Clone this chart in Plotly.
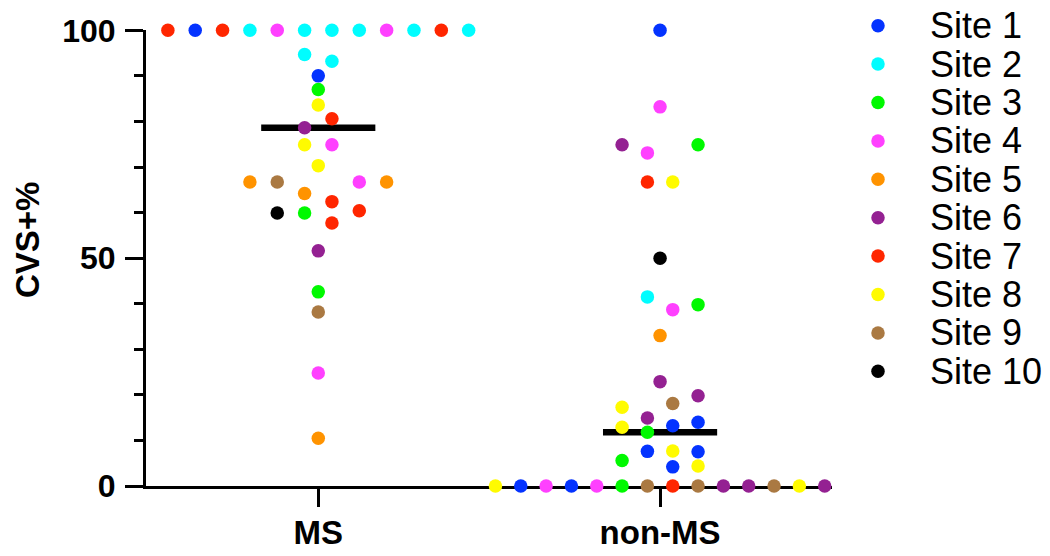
import plotly.graph_objects as go

# ---------------- data ----------------
groups = ["MS", "non-MS"]
site_names = [f"Site {i}" for i in range(1, 11)]
site_colors = ["#0433FF", "#00FDFF", "#00F900", "#FF40FF", "#FF9300",
               "#942192", "#FF2600", "#FFFB00", "#AA7942", "#000000"]

# MS group: values (CVS+%), site number, horizontal swarm slot (in dot widths)
ms_values = [100, 100, 100, 100, 100, 100, 100, 100, 100, 100, 100, 100,
             94.7, 93.2, 90.0, 87.0, 83.6, 80.6, 78.6, 74.9, 74.9, 70.3,
             66.7, 66.7, 66.7, 66.7, 64.2, 62.4, 59.9, 59.9, 60.4, 57.7,
             51.6, 42.6, 38.2, 24.8, 10.5]
ms_sites = [7, 1, 7, 2, 4, 2, 2, 2, 4, 2, 7, 2,
            2, 2, 1, 3, 8, 7, 6, 8, 4, 8,
            5, 9, 4, 5, 5, 7, 10, 3, 7, 7,
            6, 3, 9, 4, 5]
ms_slots = [-5.5, -4.5, -3.5, -2.5, -1.5, -0.5, 0.5, 1.5, 2.5, 3.5, 4.5, 5.5,
            -0.5, 0.5, 0, 0, 0, 0.5, -0.5, -0.5, 0.5, 0,
            -2.5, -1.5, 1.5, 2.5, -0.5, 0.5, -1.5, -0.5, 1.5, 0.5,
            0, 0, 0, 0, 0]

# non-MS group
non_values = [0, 0, 0, 0, 0, 0, 0, 0, 0, 0, 0, 0, 0, 0,
              100, 83.2, 74.9, 74.9, 73.1, 66.7, 66.7, 50.0,
              41.5, 38.7, 39.8, 33.0, 22.9, 19.8, 18.1, 17.3, 14.9, 14.0,
              12.9, 13.2, 11.8, 7.6, 7.7, 7.5, 5.6, 4.2, 4.4]
non_sites = [8, 1, 4, 1, 4, 3, 9, 7, 9, 6, 6, 9, 8, 6,
             1, 4, 6, 3, 4, 7, 8, 10,
             2, 4, 3, 5, 6, 6, 9, 8, 6, 1,
             8, 1, 3, 1, 8, 1, 3, 1, 8]
non_slots = [-6.5, -5.5, -4.5, -3.5, -2.5, -1.5, -0.5, 0.5, 1.5, 2.5, 3.5, 4.5, 5.5, 6.5,
             0, 0, -1.5, 1.5, -0.5, -0.5, 0.5, 0,
             -0.5, 0.5, 1.5, 0, 0, 1.5, 0.5, -1.5, -0.5, 1.5,
             -1.5, 0.5, -0.5, -0.5, 0.5, 1.5, -1.5, 0.5, 1.5]

medians = [78.6, 11.8]

# ---------------- styling constants ----------------
slot_width = [0.080, 0.0741]   # swarm dot spacing per group (x units)
median_half = 0.167
FONT = "Arial, Liberation Sans, sans-serif"
DOT = 13.5

fig = go.Figure()

# median bars (under the dots)
for gi, m in enumerate(medians):
    fig.add_trace(go.Scatter(
        x=[gi - median_half, gi + median_half], y=[m, m], mode="lines",
        line=dict(color="black", width=6.5), showlegend=False,
        hoverinfo="skip", cliponaxis=False))

group_data = [(ms_values, ms_sites, ms_slots), (non_values, non_sites, non_slots)]
for si in range(10):
    xs, ys = [], []
    for gi, (vals, sites, slots) in enumerate(group_data):
        for v, s, sl in zip(vals, sites, slots):
            if s == si + 1:
                xs.append(gi + sl * slot_width[gi])
                ys.append(v)
    fig.add_trace(go.Scatter(
        x=xs, y=ys, mode="markers", name=site_names[si],
        marker=dict(color=site_colors[si], size=DOT, line=dict(width=0)),
        showlegend=False, cliponaxis=False))

# custom legend (rows on a hidden helper axis)
rows = list(range(10))
fig.add_trace(go.Scatter(
    x=[46] * 10, y=rows, mode="markers", xaxis="x2", yaxis="y2",
    marker=dict(color=site_colors, size=DOT, line=dict(width=0)),
    showlegend=False, hoverinfo="skip", cliponaxis=False))
for r, name in zip(rows, site_names):
    fig.add_annotation(x=96, y=r, xref="x2", yref="y2", text=name,
                       showarrow=False, xanchor="left", yanchor="middle",
                       font=dict(family=FONT, size=36, color="black"))

# layout geometry (page body margin removed below)
L, T, B = 146, 10, 70
PW = 1050 - L
PH = 556 - T - B
main_right = 832 - L
main_top = 30.3 - T

# y-axis title
fig.add_annotation(x=(28 - L) / PW, y=(486 - 240) / PH, xref="paper", yref="paper",
                   text="CVS+%", textangle=-90, showarrow=False,
                   xanchor="center", yanchor="middle",
                   font=dict(family=FONT, size=33, color="black", weight="bold"))

fig.update_layout(
    width=1050, height=556,
    margin=dict(l=L, r=0, t=T, b=B, autoexpand=False),
    paper_bgcolor="white", plot_bgcolor="white",
    xaxis=dict(domain=[0, main_right / PW], range=[-0.504, 1.503],
               tickvals=[0, 1], ticktext=groups, automargin=False,
               ticks="outside", ticklen=18, tickwidth=3, tickcolor="black",
               showline=True, linewidth=3, linecolor="black",
               showgrid=False, zeroline=False, layer="below traces",
               ticklabelstandoff=-3,
               tickfont=dict(family=FONT, size=33, color="black", weight="bold")),
    yaxis=dict(domain=[0, 1 - main_top / PH], range=[0, 100], tickvals=[0, 50, 100],
               automargin=False,
               ticks="outside", ticklen=18, tickwidth=3, tickcolor="black",
               minor=dict(tickvals=[10, 20, 30, 40, 60, 70, 80, 90],
                          ticks="outside", ticklen=9, tickwidth=3, tickcolor="black"),
               showline=True, linewidth=3, linecolor="black",
               showgrid=False, zeroline=False, layer="below traces",
               ticklabelstandoff=3,
               tickfont=dict(family=FONT, size=32, color="black", weight="bold")),
    xaxis2=dict(domain=[main_right / PW, 1], range=[0, 1050 - 832], visible=False,
                anchor="y2", automargin=False),
    yaxis2=dict(domain=[0, 1], range=[11.987, -0.409], visible=False,
                anchor="x2", automargin=False),
)

fig.write_html("out.html", config={"displayModeBar": False},
               post_script="document.body.style.margin='0';")
